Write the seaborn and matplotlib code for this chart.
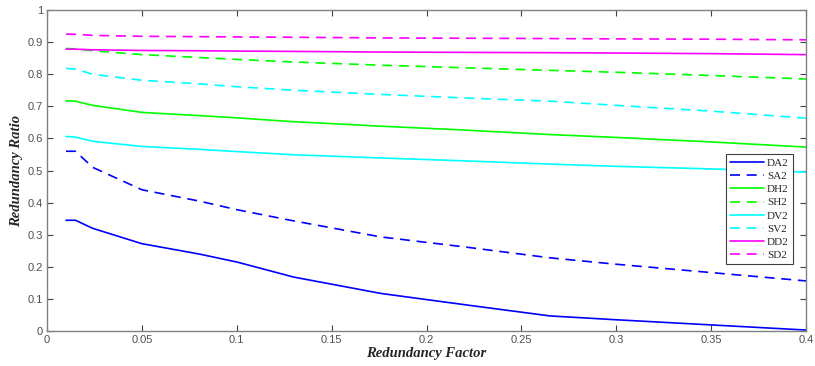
import matplotlib
matplotlib.use("Agg")
import matplotlib.pyplot as plt
import seaborn as sns
import pandas as pd

# Redundancy factor sample points
factor = [0.01, 0.015, 0.024, 0.05, 0.08, 0.1, 0.13, 0.176, 0.22, 0.265, 0.3, 0.35, 0.4]

da2 = [0.345, 0.345, 0.320, 0.272, 0.240, 0.215, 0.168, 0.117, 0.082, 0.047, 0.035, 0.019, 0.003]
sa2 = [0.560, 0.560, 0.510, 0.440, 0.405, 0.378, 0.343, 0.293, 0.262, 0.228, 0.208, 0.182, 0.156]
dh2 = [0.717, 0.716, 0.703, 0.681, 0.671, 0.664, 0.652, 0.638, 0.626, 0.612, 0.603, 0.589, 0.573]
sh2 = [0.880, 0.879, 0.873, 0.861, 0.852, 0.846, 0.838, 0.828, 0.820, 0.812, 0.806, 0.796, 0.785]
dv2 = [0.606, 0.604, 0.591, 0.575, 0.566, 0.559, 0.549, 0.539, 0.530, 0.520, 0.513, 0.505, 0.495]
sv2 = [0.818, 0.816, 0.800, 0.781, 0.770, 0.761, 0.750, 0.737, 0.726, 0.716, 0.703, 0.685, 0.663]
dd2 = [0.878, 0.878, 0.876, 0.874, 0.873, 0.872, 0.871, 0.869, 0.868, 0.867, 0.866, 0.864, 0.861]
sd2 = [0.925, 0.924, 0.921, 0.918, 0.917, 0.916, 0.915, 0.913, 0.912, 0.911, 0.910, 0.909, 0.907]

names = ["DA2", "SA2", "DH2", "SH2", "DV2", "SV2", "DD2", "SD2"]
series = [da2, sa2, dh2, sh2, dv2, sv2, dd2, sd2]

colors = ["#0000ff", "#0000ff", "#00ff00", "#00ff00", "#00ffff", "#00ffff", "#ff00ff", "#ff00ff"]
styles = ["-", (0, (6, 4)), "-", (0, (6, 4)), "-", (0, (6, 4)), "-", (0, (6, 4))]

sns.set_style("white")

fig = plt.figure(figsize=(8.15, 3.66), dpi=100)
ax = fig.add_axes([0.0577, 0.0956, 0.9313, 0.8771])

for name, vals, c, ls in zip(names, series, colors, styles):
    df = pd.DataFrame({"factor": factor, "ratio": vals})
    sns.lineplot(data=df, x="factor", y="ratio", ax=ax, color=c,
                 linestyle=ls, linewidth=1.2, label=name)

ax.set_xlim(0, 0.4)
ax.set_ylim(0, 1)
ax.set_xticks([0, 0.05, 0.1, 0.15, 0.2, 0.25, 0.3, 0.35, 0.4])
ax.set_xticklabels(["0", "0.05", "0.1", "0.15", "0.2", "0.25", "0.3", "0.35", "0.4"])
ax.set_yticks([i / 10 for i in range(11)])
ax.set_yticklabels(["0", "0.1", "0.2", "0.3", "0.4", "0.5", "0.6", "0.7", "0.8", "0.9", "1"])

ax.tick_params(direction="in", length=4, width=0.8, color="#404040",
               labelsize=8, labelcolor="#505050", top=True, right=True,
               bottom=True, left=True, pad=3)
for lab in ax.get_xticklabels() + ax.get_yticklabels():
    lab.set_family("Liberation Sans")
for sp in ax.spines.values():
    sp.set_color("#808080")
    sp.set_linewidth(1.0)

label_font = dict(family="Liberation Serif", style="italic", weight="bold", size=10.5)
ax.set_xlabel("Redundancy Factor", fontdict=label_font, labelpad=1)
ax.set_ylabel("Redundancy Ratio", fontdict=label_font, labelpad=3)

leg = ax.legend(loc="upper left", bbox_to_anchor=(0.895, 0.55),
                prop=dict(family="Liberation Serif", size=8),
                frameon=True, fancybox=False, framealpha=1,
                handlelength=3.0, handletextpad=0.3, labelspacing=0.3,
                borderpad=0.35, borderaxespad=0)
leg.get_frame().set_edgecolor("#404040")
leg.get_frame().set_linewidth(0.8)

fig.savefig("out.png", dpi=100)
